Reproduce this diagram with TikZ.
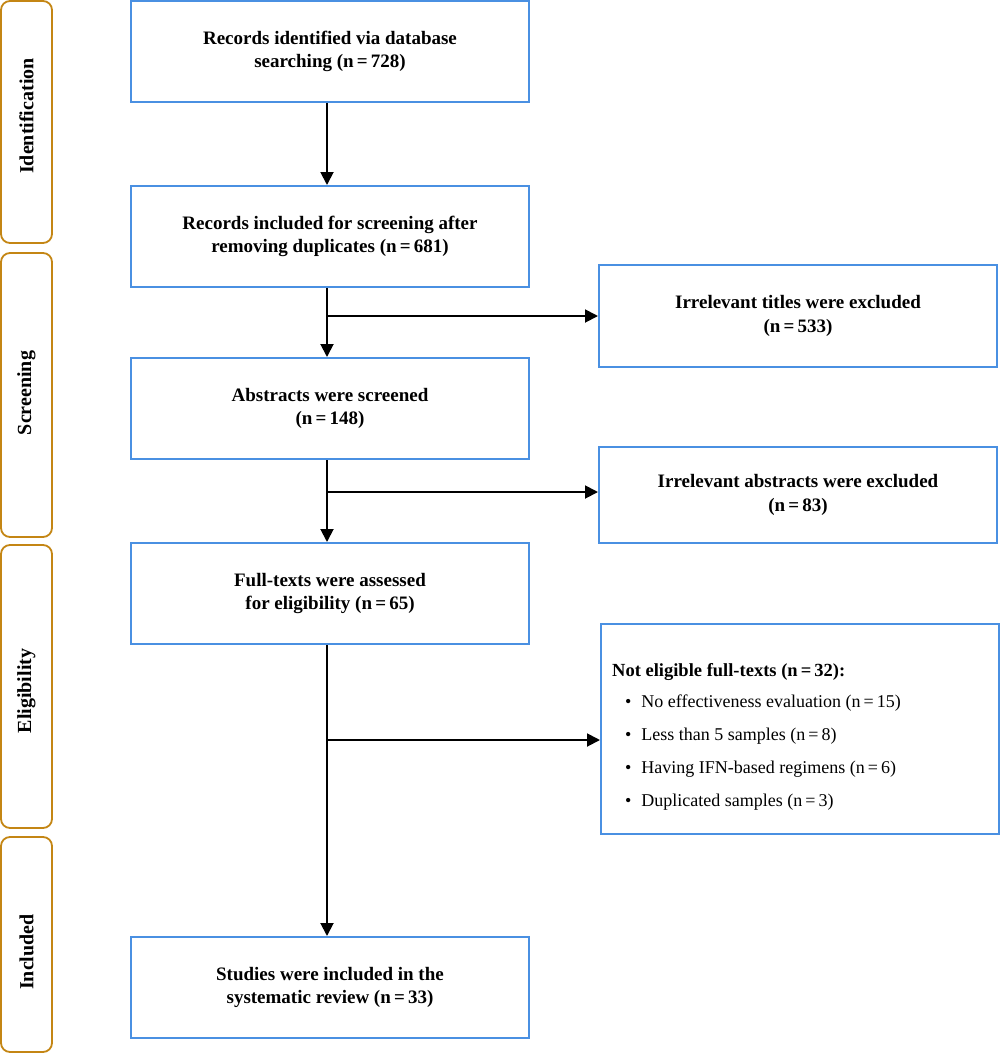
\documentclass[tikz,border=0pt]{standalone}
\usepackage{fontspec}
\setmainfont{Liberation Serif}
\usetikzlibrary{arrows.meta}
\definecolor{boxblue}{RGB}{74,144,226}
\definecolor{phaseorange}{RGB}{196,134,20}
\begin{document}
\begin{tikzpicture}[x=1pt,y=-1pt,
  bluebox/.style={draw=boxblue,line width=2pt,minimum width=398pt,minimum height=101pt,
    align=center,font=\fontsize{19}{23.5}\selectfont\bfseries,inner sep=4pt},
  phase/.style={draw=phaseorange,line width=1.8pt,rounded corners=9pt,minimum width=51pt},
  phasetext/.style={rotate=90,font=\fontsize{20}{22}\selectfont\bfseries},
  conn/.style={line width=1.9pt,black},
  arr/.style={conn,-{Triangle[length=13pt,width=13pt]}}]
\useasboundingbox (0,0) rectangle (1000,1053);
% phase boxes
\node[phase,minimum height=242pt] (p1) at (26.5,122) {};
\node[phasetext] (p1t) at (26.5,116) {Identification};
\node[phase,minimum height=284pt] (p2) at (26.5,395) {};
\node[phasetext] (p2t) at (26.5,393) {Screening};
\node[phase,minimum height=283pt] (p3) at (26.5,686.5) {};
\node[phasetext] (p3t) at (26.5,691) {Eligibility};
\node[phase,minimum height=215pt] (p4) at (26.5,944.5) {};
\node[phasetext] (p4t) at (26.5,952) {Included};
% main column
\node[bluebox] (b1) at (330,51.5) {Records identified via database\\searching (n\,=\,728)};
\node[bluebox] (b2) at (330,236.5) {Records included for screening after\\removing duplicates (n\,=\,681)};
\node[bluebox] (b3) at (330,408.5) {Abstracts were screened\\(n\,=\,148)};
\node[bluebox] (b4) at (330,593.5) {Full-texts were assessed\\for eligibility (n\,=\,65)};
\node[bluebox] (b5) at (330,987.5) {Studies were included in the\\systematic review (n\,=\,33)};
% right column
\node[bluebox,minimum height=102pt] (r1) at (798,316) {Irrelevant titles were excluded\\(n\,=\,533)};
\node[bluebox,minimum height=96pt] (r2) at (798,495) {Irrelevant abstracts were excluded\\(n\,=\,83)};
\node[draw=boxblue,line width=2pt,minimum height=210pt,minimum width=398pt] (r3) at (800,729) {};
\node[anchor=west,align=left,inner sep=0pt,font=\fontsize{18}{33}\selectfont] (r3t) at (612,737)
  {\textbf{\fontsize{18.5}{33}\selectfont Not eligible full-texts (n\,=\,32):}\\[-2pt]
   \hspace*{13pt}•\hspace{10pt}No effectiveness evaluation (n\,=\,15)\\
   \hspace*{13pt}•\hspace{10pt}Less than 5 samples (n\,=\,8)\\
   \hspace*{13pt}•\hspace{10pt}Having IFN-based regimens (n\,=\,6)\\
   \hspace*{13pt}•\hspace{10pt}Duplicated samples (n\,=\,3)};
% connectors
\draw[arr] (b1.south -| 327,0) -- (b2.north -| 327,0);
\draw[arr] (b2.south -| 327,0) -- (b3.north -| 327,0);
\draw[arr] (b3.south -| 327,0) -- (b4.north -| 327,0);
\draw[arr] (b4.south -| 327,0) -- (b5.north -| 327,0);
\coordinate (c1) at (327,316);
\coordinate (c2) at (327,492);
\coordinate (c3) at (327,740);
\draw[arr] (c1) -- (c1 -| r1.west);
\draw[arr] (c2) -- (c2 -| r2.west);
\draw[arr] (c3) -- (c3 -| r3.west);
\end{tikzpicture}
\end{document}
